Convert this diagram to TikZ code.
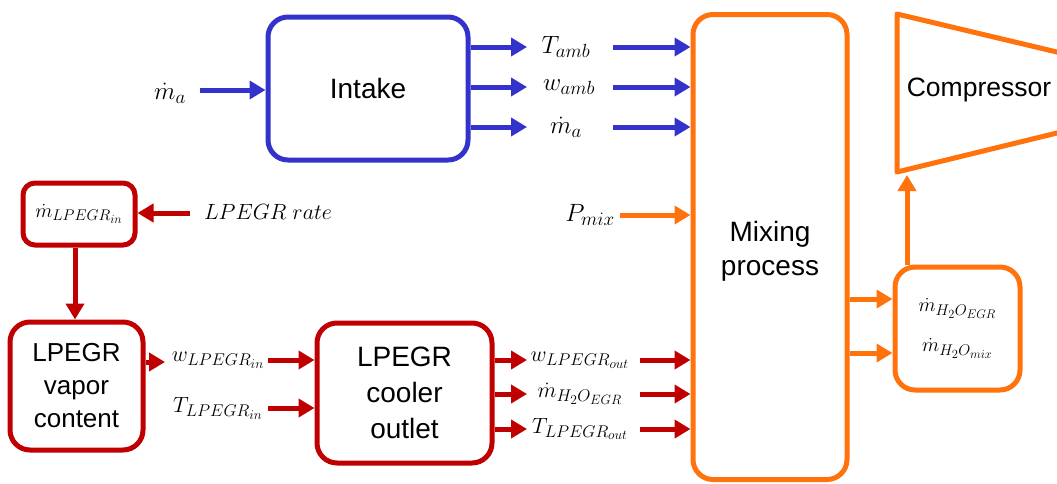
\RequirePackage{fix-cm}
\documentclass[tikz,border=0pt]{standalone}
\usepackage[no-math]{fontspec}
\setmainfont{Liberation Sans}
\usetikzlibrary{arrows.meta}
% larger sub- and sub-subscripts for the flow labels
\DeclareMathSizes{25}{25}{19}{14.5}
\DeclareMathSizes{22}{22}{17}{13.5}
\DeclareMathSizes{20}{20}{15.5}{12.5}
\definecolor{iblue}{RGB}{51,51,204}
\definecolor{ered}{RGB}{192,0,0}
\definecolor{morange}{RGB}{255,114,12}
\tikzset{
  blk/.style={draw, line width=5pt, rounded corners=20pt, align=center, inner sep=0pt,
              font=\fontsize{28}{34}\selectfont},
  flow/.style={line width=5pt, -{Triangle[length=16pt,width=18pt]}},
  lbl/.style={inner sep=0pt, font=\fontsize{22}{28}\selectfont},
  slbl/.style={inner sep=0pt, font=\fontsize{25}{30}\selectfont},
}
\begin{document}
\begin{tikzpicture}[x=1pt,y=-1pt]
\useasboundingbox (0,0) rectangle (1057,483);
\clip (0,0) rectangle (1057,483);

% ---------- intake (blue) ----------
\node[blk, draw=iblue, minimum width=200pt, minimum height=143pt] (intake) at (368,88.5) {Intake};
\node[slbl] (main) at (170,93) {$\dot m_a$};
\coordinate (ain) at (200,90);
\draw[flow, iblue] (ain) -- (intake.west |- ain);

\node[slbl] (tamb) at (566,47) {$T_{amb}$};
\node[slbl] (wamb) at (569,87) {$w_{amb}$};
\node[slbl] (ma)   at (566,127) {$\dot m_a$};
\coordinate (ocol) at (527,0);
\coordinate (icol) at (613,0);

% ---------- mixing process (orange) ----------
\node[blk, draw=morange, minimum width=154pt, minimum height=465pt] (mix) at (770,247) {};
\node[inner sep=0pt, align=center, font=\fontsize{28}{34}\selectfont] (mixl) at (770,251) {Mixing\\process};

\foreach \s in {tamb,wamb,ma}{
  \draw[flow, iblue] (intake.east |- \s) -- (ocol |- \s);
  \draw[flow, iblue] (icol |- \s) -- (mix.west |- \s);
}

\node[slbl] (pmix) at (590,215) {$P_{mix}$};
\coordinate (pin) at (620,215);
\draw[flow, morange] (pin) -- (mix.west |- pin);

% ---------- compressor ----------
\draw[morange, line width=5pt, line join=round] (1080,57.5) -- (897,14) -- (897,172) -- (1080,127.4);
\node[inner sep=0pt, font=\fontsize{26.5}{30}\selectfont] (comp) at (979,90) {Compressor};
\coordinate (cb) at (907,175);

% ---------- water mass flow box ----------
\node[blk, draw=morange, minimum width=125pt, minimum height=123pt, font=\fontsize{20}{40}\selectfont] (h2o) at (957.5,328.5)
  {$\dot m_{H_2O_{EGR}}$\\$\dot m_{H_2O_{mix}}$};
\coordinate (m1) at (0,299);
\coordinate (m2) at (0,353);
\draw[flow, morange] (mix.east |- m1) -- (h2o.west |- m1);
\draw[flow, morange] (mix.east |- m2) -- (h2o.west |- m2);
\draw[flow, morange] (cb |- h2o.north) -- (cb);

% ---------- LPEGR branch (red) ----------
\node[blk, draw=ered, rounded corners=12pt, minimum width=112pt, minimum height=62pt, font=\fontsize{20}{24}\selectfont] (egrin) at (79,214)
  {$\dot m_{LPEGR_{in}}$};
\node[lbl] (rate) at (268,212) {$LPEGR\ rate$};
\coordinate (rin) at (190,213);
\draw[flow, ered] (rin) -- (egrin.east |- rin);

\node[blk, draw=ered, minimum width=133pt, minimum height=128pt, font=\fontsize{26}{33}\selectfont] (vap) at (76.5,386) {LPEGR\\vapor\\content};
\draw[flow, ered] ([xshift=-4pt]egrin.south) -- ([xshift=-4pt]egrin.south |- vap.north);

\node[lbl] (win) at (218,360) {$w_{LPEGR_{in}}$};
\node[lbl] (tin) at (218,408) {$T_{LPEGR_{in}}$};
\coordinate (vo) at (165,362);
\draw[flow, ered] (vap.east |- vo) -- (vo);

\node[blk, draw=ered, minimum width=175pt, minimum height=140pt, font=\fontsize{28}{36}\selectfont] (cool) at (404.5,393) {LPEGR\\cooler\\outlet};
\coordinate (ccol) at (268,0);
\draw[flow, ered] (ccol |- win) -- (cool.west |- win);
\draw[flow, ered] (ccol |- tin) -- (cool.west |- tin);

\node[lbl] (wout) at (580,360) {$w_{LPEGR_{out}}$};
\node[lbl] (hout) at (580,394) {$\dot m_{H_2O_{EGR}}$};
\node[lbl] (tout) at (580,429) {$T_{LPEGR_{out}}$};
\coordinate (pcol) at (640,0);
\foreach \s in {wout,hout,tout}{
  \draw[flow, ered] (cool.east |- \s) -- (ocol |- \s);
  \draw[flow, ered] (pcol |- \s) -- (mix.west |- \s);
}
\end{tikzpicture}
\end{document}
